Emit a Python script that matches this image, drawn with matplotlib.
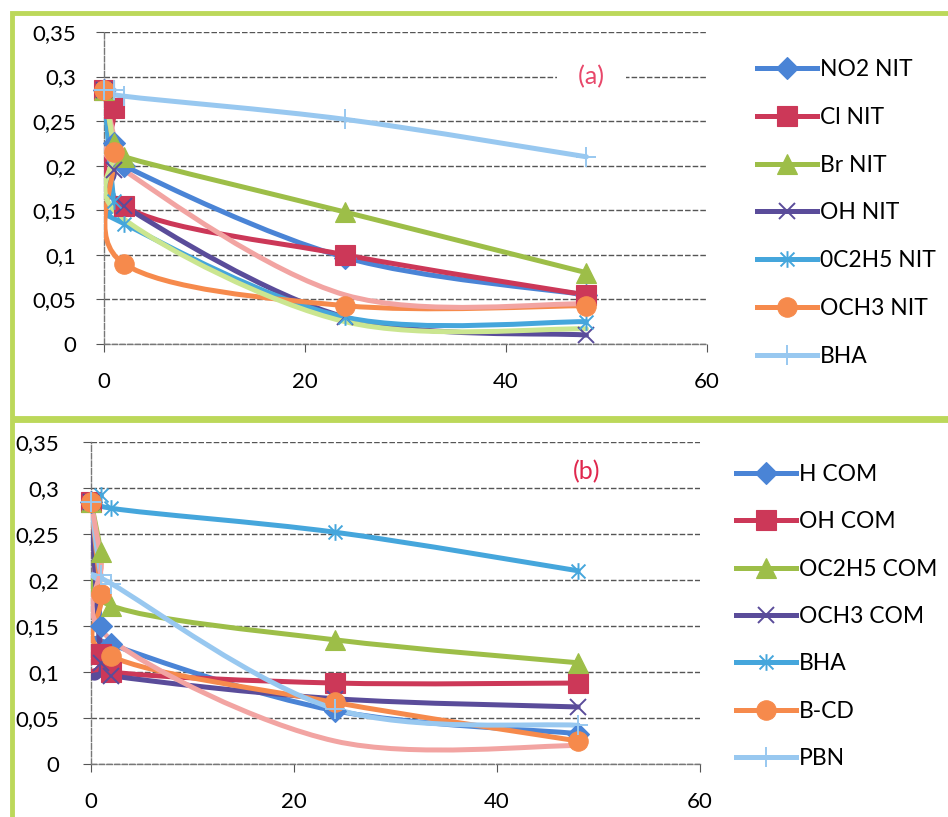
import numpy as np
import matplotlib
matplotlib.use("Agg")
import matplotlib.pyplot as plt
from matplotlib.path import Path
from matplotlib.patches import PathPatch, Rectangle
from matplotlib.lines import Line2D

plt.rcParams['font.family'] = ['Lato', 'DejaVu Sans']

# sampling times (h) shared by every series
t = [0, 1, 2, 24, 48]

# (a) nitrones
no2_nit = [0.285, 0.225, 0.200, 0.097, 0.055]
cl_nit = [0.285, 0.265, 0.155, 0.100, 0.055]
br_nit = [0.285, 0.225, 0.210, 0.148, 0.080]
oh_nit = [0.285, 0.195, 0.155, 0.030, 0.010]
oc2h5_nit = [0.285, 0.160, 0.135, 0.030, 0.025]
och3_nit = [0.285, 0.215, 0.090, 0.043, 0.043]
bha_a = [0.285, 0.285, 0.278, 0.252, 0.210]
extra_pink_a = [0.285, 0.232, 0.195, 0.055, 0.045]
extra_lime_a = [0.285, 0.220, 0.140, 0.025, 0.017]

# (b) compounds
h_com = [0.285, 0.150, 0.130, 0.058, 0.033]
oh_com = [0.285, 0.120, 0.100, 0.088, 0.088]
oc2h5_com = [0.285, 0.230, 0.172, 0.135, 0.110]
och3_com = [0.285, 0.110, 0.096, 0.071, 0.062]
bha_b = [0.285, 0.292, 0.278, 0.252, 0.210]
b_cd = [0.285, 0.185, 0.117, 0.067, 0.025]
pbn = [0.285, 0.205, 0.196, 0.060, 0.042]
extra_pink_b = [0.285, 0.220, 0.135, 0.025, 0.020]

yticks = [0, 0.05, 0.1, 0.15, 0.2, 0.25, 0.3, 0.35]
ytick_labels = ["0", "0,05", "0,1", "0,15", "0,2", "0,25", "0,3", "0,35"]
xticks = [0, 20, 40, 60]

BLUE = '#4a84d6'
RED = '#cc3858'
GREEN = '#9dbe48'
PURPLE = '#5a4c9a'
CYAN = '#45a6dc'
ORANGE = '#f68a4c'
LIGHTBLUE = '#98c8f0'
PINK = '#f2a4a2'
LIME = '#cbe690'
BORDER = '#bcd85a'

# excel-style star: x with a vertical bar
star = Path([(-1, -1), (1, 1), (-1, 1), (1, -1), (0, -1.2), (0, 1.2)],
            [Path.MOVETO, Path.LINETO, Path.MOVETO, Path.LINETO, Path.MOVETO, Path.LINETO])

W, H = 948, 817
fig = plt.figure(figsize=(W / 100, H / 100), dpi=100)


def px_axes(left, right, top, bottom):
    return fig.add_axes([left / W, 1 - bottom / H, (right - left) / W, (bottom - top) / H])


def smooth_line(ax, xs, ys, color):
    # bezier through the points, like excel's "smoothed line"
    p = np.column_stack([xs, ys]).astype(float)
    n = len(p)
    verts = [p[0]]
    codes = [Path.MOVETO]
    for i in range(n - 1):
        p0 = p[max(i - 1, 0)]
        p1 = p[i]
        p2 = p[i + 1]
        p3 = p[min(i + 2, n - 1)]
        verts += [p1 + (p2 - p0) / 6, p2 - (p3 - p1) / 6, p2]
        codes += [Path.CURVE4] * 3
    ax.add_patch(PathPatch(Path(verts, codes), fill=False, edgecolor=color,
                           lw=3.6, capstyle='round', joinstyle='round', zorder=3))


def draw_series(ax, xs, ys, color, marker, ms, label):
    smooth_line(ax, xs, ys, color)
    filled = marker in ('D', 's', '^', 'o')
    ax.plot(xs, ys, ls='none', marker=marker, ms=ms, color=color,
            mfc=color if filled else 'none', mec=color, mew=1.4 if not filled else 0.8,
            zorder=4, clip_on=False)
    return Line2D([], [], color=color, lw=3.6, marker=marker, ms=ms,
                  mfc=color if filled else 'none', mec=color,
                  mew=1.4 if not filled else 0.8), label


def style_axes(ax, label_pad):
    ax.set_xlim(0, 60)
    ax.set_ylim(0, 0.35)
    ax.set_yticks(yticks)
    ax.set_yticklabels(ytick_labels)
    ax.set_xticks(xticks)
    ax.grid(axis='y', color='#555555', lw=1.0, ls=(0, (4, 1.5)))
    ax.set_axisbelow(True)
    for s in ['top', 'right']:
        ax.spines[s].set_visible(False)
    for s in ['left', 'bottom']:
        ax.spines[s].set_color('#777777')
        ax.spines[s].set_linewidth(1.0)
        ax.spines[s].set_linestyle((0, (4, 1.5)))
    ax.tick_params(axis='y', direction='out', length=6, color='#555555',
                   labelsize=16, pad=label_pad)
    ax.tick_params(axis='x', direction='out', length=6, color='#555555',
                   labelsize=16, pad=14)


# panel borders
fig.patches.append(Rectangle((12 / W, 1 - 418 / H), 1.1, (418 - 13) / H, fill=False,
                             edgecolor=BORDER, lw=3.5, transform=fig.transFigure))
fig.patches.append(Rectangle((12 / W, -0.1), 1.1, 0.1 + 1 - 420 / H, fill=False,
                             edgecolor=BORDER, lw=3.5, transform=fig.transFigure))

# ---- (a)
ax_a = px_axes(104, 707, 32, 344)
style_axes(ax_a, 14)
leg_a = [
    draw_series(ax_a, t, no2_nit, BLUE, 'D', 11, "NO2 NIT"),
    draw_series(ax_a, t, cl_nit, RED, 's', 14, "Cl NIT"),
    draw_series(ax_a, t, br_nit, GREEN, '^', 14, "Br NIT"),
    draw_series(ax_a, t, oh_nit, PURPLE, 'x', 12, "OH NIT"),
    draw_series(ax_a, t, oc2h5_nit, CYAN, star, 12, "0C2H5 NIT"),
    draw_series(ax_a, t, och3_nit, ORANGE, 'o', 14, "OCH3 NIT"),
    draw_series(ax_a, t, bha_a, LIGHTBLUE, '+', 14, "BHA"),
]
smooth_line(ax_a, t, extra_pink_a, PINK)
smooth_line(ax_a, t, extra_lime_a, LIME)
ax_a.text(48.5, 0.3, "   (a)   ", color='#e8476a', fontsize=18, ha='center', va='center',
          bbox=dict(boxstyle='square,pad=0.1', fc='white', ec='none'), zorder=2)
ax_a.legend([h for h, _ in leg_a], [l for _, l in leg_a], loc='upper left',
            bbox_to_anchor=(757 / W, 1 - 59 / H), bbox_transform=fig.transFigure,
            frameon=False, fontsize=16.5, handlelength=2.6, handletextpad=0.15,
            labelspacing=1.17, borderpad=0, borderaxespad=0, numpoints=1)

# ---- (b)
ax_b = px_axes(91, 700, 442, 764)
style_axes(ax_b, 17)
leg_b = [
    draw_series(ax_b, t, h_com, BLUE, 'D', 11, "H COM"),
    draw_series(ax_b, t, oh_com, RED, 's', 14, "OH COM"),
    draw_series(ax_b, t, oc2h5_com, GREEN, '^', 14, "OC2H5 COM"),
    draw_series(ax_b, t, och3_com, PURPLE, 'x', 12, "OCH3 COM"),
    draw_series(ax_b, t, bha_b, CYAN, star, 12, "BHA"),
    draw_series(ax_b, t, b_cd, ORANGE, 'o', 14, "B-CD"),
    draw_series(ax_b, t, pbn, LIGHTBLUE, '+', 14, "PBN"),
]
smooth_line(ax_b, t, extra_pink_b, PINK)
ax_b.text(48.8, 0.318, "(b)", color='#e0284e', fontsize=18, ha='center', va='center', zorder=2)
ax_b.legend([h for h, _ in leg_b], [l for _, l in leg_b], loc='upper left',
            bbox_to_anchor=(736 / W, 1 - 464 / H), bbox_transform=fig.transFigure,
            frameon=False, fontsize=16.5, handlelength=2.6, handletextpad=0.15,
            labelspacing=1.15, borderpad=0, borderaxespad=0, numpoints=1)

fig.savefig("out.png", dpi=100, facecolor='white')
